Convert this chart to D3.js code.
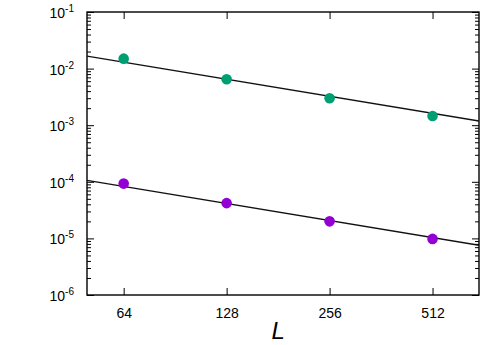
<!DOCTYPE html>
<html>
<head>
<meta charset="utf-8">
<script src="https://cdn.jsdelivr.net/npm/d3@7"></script>
<style>
  body { margin: 0; background: #fff; }
  svg { display: block; }
  text { font-family: "Liberation Sans", Arial, sans-serif; }
</style>
</head>
<body>
<svg width="483" height="345"></svg>
<script>
// data
var sizes = [64, 128, 256, 512];
var greenVals = [0.0150, 0.0065, 0.0030, 0.00145];
var purpleVals = [9.3e-5, 4.2e-5, 2.0e-5, 9.8e-6];
// fitted power laws a * L^b
var greenFit = {a: 0.83, b: -1};
var purpleFit = {a: 0.0053, b: -1};
var xTicks = [64, 128, 256, 512];
var yExps = [-1, -2, -3, -4, -5, -6];

var svg = d3.select("svg"),
    margin = {top: 12, right: 4, bottom: 50, left: 87},
    width = +svg.attr("width") - margin.left - margin.right,
    height = +svg.attr("height") - margin.top - margin.bottom;

var g = svg.append("g")
    .attr("transform", "translate(" + margin.left + "," + margin.top + ")");

var x = d3.scaleLog().base(2).domain([50, 700]).range([0, width]);
var y = d3.scaleLog().domain([1e-6, 1e-1]).range([height, 0]);

g.append("clipPath").attr("id", "clip")
  .append("rect").attr("width", width).attr("height", height);

// minor ticks on y
var minors = [];
yExps.slice(1).forEach(function(e) {
    for (var k = 2; k <= 9; k++) minors.push(k * Math.pow(10, e));
});
var majors = yExps.map(function(e) { return Math.pow(10, e); });

function styleAxis(sel) {
    sel.select(".domain").remove();
    sel.selectAll(".tick line").attr("stroke", "#000").attr("stroke-width", 1);
}

g.append("g").call(d3.axisLeft(y).tickValues(minors).tickSize(-4).tickFormat(""))
    .call(styleAxis);
g.append("g").attr("transform", "translate(" + width + ",0)")
    .call(d3.axisRight(y).tickValues(minors).tickSize(-4).tickFormat(""))
    .call(styleAxis);
g.append("g").call(d3.axisLeft(y).tickValues(majors).tickSize(-7).tickFormat(""))
    .call(styleAxis);
g.append("g").attr("transform", "translate(" + width + ",0)")
    .call(d3.axisRight(y).tickValues(majors).tickSize(-7).tickFormat(""))
    .call(styleAxis);

// x ticks
var xAxis = g.append("g").attr("transform", "translate(0," + height + ")")
    .call(d3.axisBottom(x).tickValues(xTicks).tickSize(-7).tickPadding(13).tickFormat(d3.format("d")))
    .call(styleAxis);
xAxis.selectAll("text").attr("fill", "#000").attr("font-size", 14)
    .attr("font-family", "Liberation Sans, Arial, sans-serif");
g.append("g")
    .call(d3.axisTop(x).tickValues(xTicks).tickSize(-7).tickFormat(""))
    .call(styleAxis);

// y tick labels as 10^e
var yl = g.selectAll(".ylab").data(yExps).enter().append("text")
    .attr("class", "ylab")
    .attr("x", -13)
    .attr("y", function(e) { return y(Math.pow(10, e)) + 6; })
    .attr("text-anchor", "end")
    .attr("font-size", 14)
    .attr("fill", "#000");
yl.append("tspan").text("10");
yl.append("tspan").attr("dy", -6).attr("font-size", 10).text(function(e) { return String(e); });

// frame
g.append("rect").attr("width", width).attr("height", height)
    .attr("fill", "none").attr("stroke", "#000").attr("stroke-width", 1.4);

// fit lines
function fitLine(f) {
    var xs = x.domain();
    return d3.line().x(function(d) { return x(d); }).y(function(d) { return y(f.a * Math.pow(d, f.b)); })(xs);
}
[greenFit, purpleFit].forEach(function(f) {
    g.append("path").attr("d", fitLine(f)).attr("fill", "none")
        .attr("stroke", "#111").attr("stroke-width", 1.3).attr("clip-path", "url(#clip)");
});

// points
function drawPoints(vals, color) {
    g.selectAll(null).data(vals).enter().append("circle")
        .attr("cx", function(d, i) { return x(sizes[i]); })
        .attr("cy", function(d) { return y(d); })
        .attr("r", 5.3)
        .attr("fill", color);
}
drawPoints(greenVals, "#009e73");
drawPoints(purpleVals, "#9400d3");

// axis title
svg.append("text")
    .attr("x", margin.left + x(Math.sqrt(128 * 256)))
    .attr("y", 339)
    .attr("text-anchor", "middle")
    .attr("font-family", "'Liberation Serif', 'Times New Roman', serif")
    .attr("font-style", "italic")
    .attr("font-size", 24)
    .text("L");
</script>
</body>
</html>
